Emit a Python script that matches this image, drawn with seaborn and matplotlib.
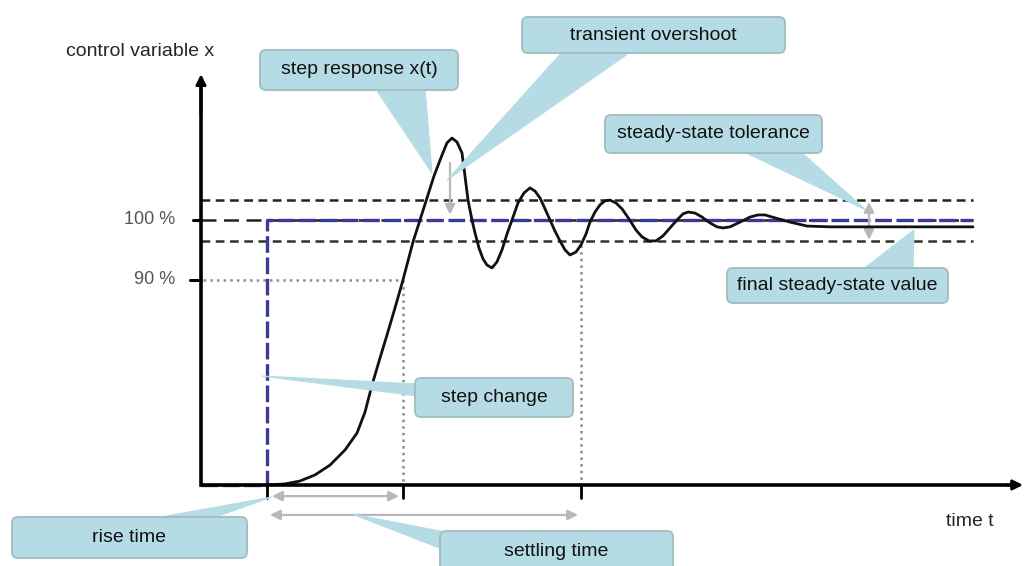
import matplotlib
matplotlib.use("Agg")
import matplotlib.pyplot as plt
import matplotlib.transforms as mtransforms
from matplotlib.patches import FancyBboxPatch, Polygon
import seaborn as sns

# step response (time in arbitrary units, x in % of the step height)
t_resp = [0.00, 0.18, 0.33, 0.48, 0.63, 0.78, 0.90, 0.98, 1.05, 1.13, 1.20, 1.28, 1.36,
          1.46, 1.53, 1.60, 1.67, 1.75, 1.80, 1.85, 1.90, 1.95, 1.98, 2.01, 2.05, 2.08,
          2.12, 2.16, 2.20, 2.25, 2.30, 2.35, 2.40, 2.45, 2.51, 2.57, 2.63, 2.68, 2.73,
          2.78, 2.83, 2.88, 2.93, 2.98, 3.03, 3.09, 3.14, 3.19, 3.23, 3.28, 3.33, 3.38,
          3.43, 3.49, 3.55, 3.60, 3.64, 3.69, 3.75, 3.82, 3.89, 3.96, 4.03, 4.10, 4.16,
          4.21, 4.28, 4.35, 4.43, 4.50, 4.56, 4.63, 4.73, 4.83, 4.91, 4.98, 5.08, 5.23,
          5.40, 5.63, 6.03, 6.53, 7.06]
x_resp = [0.0, 0.4, 1.5, 3.8, 7.5, 13.2, 19.6, 27.5, 37.7, 47.9, 56.6, 66.8, 77.4,
          91.7, 100.0, 108.3, 116.6, 124.5, 129.1, 130.9, 129.4, 125.3, 116.6, 107.5, 100.0, 95.1,
          89.4, 85.3, 83.0, 81.9, 84.2, 88.7, 94.7, 100.0, 106.4, 110.2, 112.1, 110.9, 108.3,
          104.2, 100.0, 95.8, 92.1, 88.7, 86.8, 87.9, 90.6, 94.7, 99.2, 103.0, 105.7, 107.2,
          107.5, 106.4, 104.2, 101.5, 99.2, 96.2, 93.6, 92.1, 92.1, 94.0, 97.0, 100.0, 102.3,
          103.0, 102.6, 101.1, 98.9, 97.4, 97.0, 97.4, 99.2, 101.1, 101.9, 101.9, 100.8, 99.2,
          97.7, 97.4, 97.4, 97.4, 97.4]

# input step
step_t = [-0.66, 0.0, 0.0, 7.06]
step_x = [0, 0, 100, 100]

tol_upper = 107.5
tol_lower = 92.1
level_100 = 100
level_90 = 77.4      # schematic: the 90 % mark is drawn lower than a true scale would put it
t_axis = -0.66
t_end = 7.06
t_rise = 1.36
t_settle = 3.14
settle_top = 90.6

W, H = 1025, 566
sns.set_theme(style="white")
plt.rcParams["font.family"] = ["Liberation Sans", "DejaVu Sans"]

fig = plt.figure(figsize=(W / 100, H / 100), dpi=100)
ax = fig.add_axes([0, 0, 1, 1])
ax.set_xlim(-2.67, 7.58)
ax.set_ylim(-30.57, 183.0)
ax.set_axis_off()

# pixel space (origin top-left) for the callouts
pix = mtransforms.Affine2D().scale(1 / W, -1 / H).translate(0, 1) + fig.transFigure

# tolerance band and 100 % line
ax.plot([t_axis, t_end], [tol_upper] * 2, color="#222222", lw=1.8, dashes=(3.5, 2.2), zorder=2)
ax.plot([t_axis, t_end], [tol_lower] * 2, color="#333322", lw=1.8, dashes=(3.5, 2.2), zorder=2)
ax.plot([t_axis, t_end], [level_100] * 2, color="#222222", lw=1.8, dashes=(6, 3), zorder=2)

# 90 % helper line and time markers
grey = "#8c8c8c"
ax.plot([-0.77, t_rise], [level_90] * 2, color=grey, lw=1.8, ls=":", zorder=2)
ax.plot([t_rise, t_rise], [level_90, 0], color=grey, lw=1.8, ls=":", zorder=2)
ax.plot([t_settle, t_settle], [settle_top, 0], color=grey, lw=1.8, ls=":", zorder=2)

# step input
ax.plot(step_t, step_x, color="#3a3a99", lw=2.4, dashes=(5, 1.4), zorder=3)

# response
sns.lineplot(x=t_resp, y=x_resp, ax=ax, color="#111111", lw=2.0, estimator=None,
             sort=False, zorder=4)

# axes with arrow heads
ax.plot([t_axis, t_axis, 7.5], [150, 0, 0], color="black", lw=2.6,
        solid_joinstyle="miter", zorder=5)
for tip, tail in [((t_axis, 155), (t_axis, 140)), ((7.56, 0), (7.4, 0))]:
    ax.annotate("", xy=tip, xytext=tail,
                arrowprops=dict(arrowstyle="-|>,head_length=0.5,head_width=0.25",
                                color="black", lw=2.0, shrinkA=0, shrinkB=0), zorder=5)
ax.plot([-0.74, t_axis], [level_100] * 2, color="black", lw=2.2, zorder=5)
ax.plot([-0.77, t_axis], [level_90] * 2, color="black", lw=2.2, zorder=5)
for t in [0.0, t_rise, t_settle]:
    ax.plot([t, t], [0, -4.9], color="black", lw=2.0, zorder=5)

ax.text(-0.92, level_100, "100 %", ha="right", va="center", fontsize=13, color="#555555")
ax.text(-0.92, level_90, "90 %", ha="right", va="center", fontsize=13, color="#555555")

# grey measuring arrows
arrow_grey = "#b8b8b8"
for a, b, style in [((0.05, -4.2), (1.32, -4.2), "<|-|>"),
                    ((0.03, -11.3), (3.11, -11.3), "<|-|>"),
                    ((1.83, 121.5), (1.83, 102.0), "-|>"),
                    ((6.02, 106.8), (6.02, 92.5), "<|-|>")]:
    ax.annotate("", xy=b, xytext=a,
                arrowprops=dict(arrowstyle=style + ",head_length=0.5,head_width=0.25",
                                color=arrow_grey, lw=1.6, shrinkA=0, shrinkB=0), zorder=3)

# axis titles
ax.text(66, 52, "control variable x", transform=pix, ha="left", va="center", fontsize=14)
ax.text(970, 522, "time t", transform=pix, ha="center", va="center", fontsize=14)

# callouts: text, box (x0, y0, x1, y1), tail polygon (pixel space)
fill = "#b5dce5"
edge = "#a3bec4"
callouts = [
    ("step response x(t)", (260, 50, 458, 90), [(375, 88), (425, 88), (432, 173)]),
    ("transient overshoot", (522, 17, 785, 53), [(563, 51), (632, 51), (447, 180)]),
    ("steady-state tolerance", (605, 115, 822, 153), [(742, 151), (800, 151), (866, 210)]),
    ("final steady-state value", (727, 268, 948, 303), [(862, 270), (913, 270), (914, 230)]),
    ("step change", (415, 378, 573, 417), [(417, 384), (417, 396), (262, 376)]),
    ("rise time", (12, 517, 247, 558), [(150, 519), (210, 519), (272, 497)]),
    ("settling time", (440, 531, 673, 571), [(450, 533), (442, 549), (352, 514)]),
]
for label, (x0, y0, x1, y1), tail in callouts:
    ax.add_patch(Polygon(tail, closed=True, transform=pix, fc=fill, ec=fill,
                         lw=0.8, zorder=6))
    ax.add_patch(FancyBboxPatch((x0, y0), x1 - x0, y1 - y0,
                                boxstyle="round,pad=0,rounding_size=6", transform=pix,
                                fc=fill, ec=edge, lw=1.4, zorder=7))
    ax.text((x0 + x1) / 2, (y0 + y1) / 2, label, transform=pix, ha="center",
            va="center", fontsize=14, color="#111111", zorder=8)

fig.savefig("out.png", dpi=100)
